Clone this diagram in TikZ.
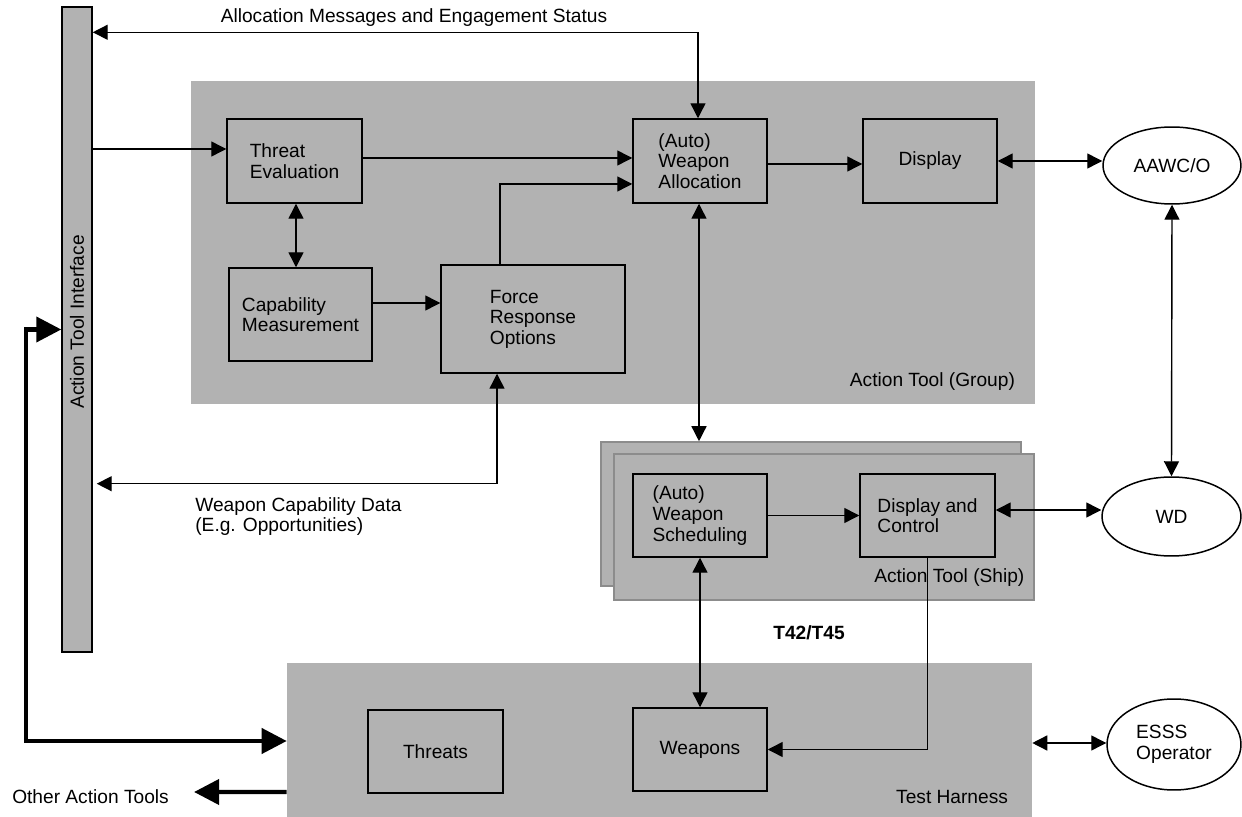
\documentclass[tikz,border=0pt]{standalone}
\usepackage{fontspec}
\setmainfont{Liberation Sans}
\usetikzlibrary{arrows.meta,shapes.geometric}

\definecolor{areagray}{RGB}{178,178,178}
\definecolor{framegray}{RGB}{140,140,140}

\tikzset{
  area/.style={fill=areagray, inner sep=0pt},
  frame/.style={fill=areagray, draw=framegray, line width=0.9pt, inner sep=0pt},
  block/.style={draw, fill=areagray, line width=0.85pt, align=left, inner sep=0pt},
  party/.style={draw, ellipse, fill=white, line width=0.85pt, align=left, inner sep=0pt},
  note/.style={align=left, inner sep=0pt},
  link/.style={line width=0.8pt, -{Triangle[length=0.3cm,width=0.3cm]}},
  dlink/.style={line width=0.8pt, {Triangle[length=0.3cm,width=0.3cm]}-{Triangle[length=0.3cm,width=0.3cm]}},
  wide/.style={line width=2.3pt, -{Triangle[length=0.5cm,width=0.5cm]}},
  dwide/.style={line width=2.3pt, {Triangle[length=0.5cm,width=0.5cm]}-{Triangle[length=0.5cm,width=0.5cm]}}
}

\begin{document}
\fontsize{10.9}{11.7}\selectfont
\begin{tikzpicture}[x=0.02cm, y=-0.02cm]
  \useasboundingbox (0,0) rectangle (1242,817);

  % shaded areas
  \node[area, minimum width=16.88cm, minimum height=6.46cm] (group) at (613,242.5) {};
  \node[frame, minimum width=8.4cm, minimum height=2.88cm] (shipback) at (811,514) {};
  \node[frame, minimum width=8.4cm, minimum height=2.92cm] (ship) at (824,527) {};
  \node[area, minimum width=14.9cm, minimum height=3.08cm] (harness) at (659.5,740) {};
  \node[block, minimum width=0.6cm, minimum height=12.9cm] (ati) at (77,329.5) {};
  \node[rotate=90, inner sep=0pt] (atilabel) at (77,322) {Action Tool Interface};

  \node[note, anchor=base east] (grouplabel) at ([xshift=-0.4cm,yshift=0.36cm]group.south east) {Action Tool (Group)};
  \node[note, anchor=base east] (shiplabel) at ([xshift=-0.2cm,yshift=0.36cm]ship.south east) {Action Tool (Ship)};
  \node[note, anchor=base east] (harnesslabel) at ([xshift=-0.48cm,yshift=0.28cm]harness.south east) {Test Harness};

  % blocks
  \node[block, minimum width=2.7cm, minimum height=1.68cm] (threat) at (294.5,161) {Threat\\Evaluation};
  \node[block, minimum width=2.86cm, minimum height=1.86cm] (capab) at (300.5,314.5) {Capability\\Measurement};
  \node[block, minimum width=3.68cm, minimum height=2.16cm] (force) at (533,319) {Force\\Response\\Options};
  \node[block, minimum width=2.68cm, minimum height=1.68cm] (alloc) at (700,161) {(Auto)\\Weapon\\Allocation};
  \node[block, minimum width=2.68cm, minimum height=1.68cm] (display) at (930,161) {Display};
  \node[block, minimum width=2.68cm, minimum height=1.66cm] (sched) at (700,515.5) {(Auto)\\Weapon\\Scheduling};
  \node[block, minimum width=2.7cm, minimum height=1.66cm] (dispctl) at (927.5,515.5) {Display and\\Control};
  \node[block, minimum width=2.7cm, minimum height=1.66cm] (threats) at (435.5,751.5) {Threats};
  \node[block, minimum width=2.68cm, minimum height=1.66cm] (weapons) at (700,749.5) {Weapons};

  % operators
  \node[party, minimum width=2.76cm, minimum height=1.54cm] (aawco) at (1172,165.5) {AAWC/O};
  \node[party, minimum width=2.78cm, minimum height=1.58cm] (wd) at (1171.5,516.5) {WD};
  \node[party, minimum width=2.68cm, minimum height=1.82cm] (esss) at (1174,744.5) {ESSS\\Operator};

  \node[font=\bfseries] (type) at (809,633) {T42/T45};

  % connectors
  \coordinate (msg) at ([xshift=-0.04cm,yshift=1.72cm]alloc.north);
  \draw[dlink] (ati.east |- msg) -- (msg) -- (msg |- alloc.north);
  \node[note] (msglabel) at (414,18) {Allocation Messages and Engagement Status};

  \coordinate (tein) at ([yshift=0.24cm]threat.west);
  \draw[link] (ati.east |- tein) -- (tein);
  \coordinate (teout) at ([yshift=0.06cm]threat.east);
  \draw[link] (teout) -- (teout -| alloc.west);
  \draw[dlink] ([xshift=0.03cm]threat.south) -- ([xshift=0.03cm]threat.south |- capab.north);
  \coordinate (cmout) at ([yshift=0.23cm]capab.east);
  \draw[link] (cmout) -- (cmout -| force.west);
  \coordinate (frout) at ([xshift=-0.66cm]force.north);
  \draw[link] (frout) |- ([yshift=-0.46cm]alloc.west);
  \draw[link] ([yshift=-0.06cm]alloc.east) -- ([yshift=-0.06cm]display.west);
  \draw[dlink] (display.east) -- (display.east -| aawco.west);
  \draw[dlink] (aawco.south) -- (wd.north);
  \draw[dlink] ([xshift=-0.02cm]alloc.south) -- ([xshift=-0.02cm]alloc.south |- shipback.north);

  \coordinate (wcd) at ([xshift=-0.72cm,yshift=-2.2cm]force.south);
  \draw[dlink] ([xshift=0.08cm]ati.east |- wcd) -- (wcd) -- (wcd |- force.south);
  \node[note, anchor=north west] (wcdlabel) at (195,497) {Weapon Capability Data\\(E.g. Opportunities)};

  \draw[link] (sched.east) -- (dispctl.west);
  \draw[dlink] ([yshift=0.11cm]dispctl.east) -- ([yshift=0.11cm]dispctl.east -| wd.west);
  \draw[dlink] (sched.south) -- (weapons.north);
  \draw[link] (dispctl.south) |- (weapons.east);
  \draw[dlink] ([yshift=-0.06cm]harness.east) -- ([yshift=-0.06cm]harness.east -| esss.west);

  \draw[dwide] (ati.west) -- ++(-0.7cm,0) |- ([yshift=-0.02cm]harness.west);
  \node[note] (others) at (90.5,797) {Other Action Tools};
  \draw[wide] ([yshift=-1.04cm]harness.west) -- ([xshift=0.5cm]others.east |- 0,792);
\end{tikzpicture}
\end{document}
